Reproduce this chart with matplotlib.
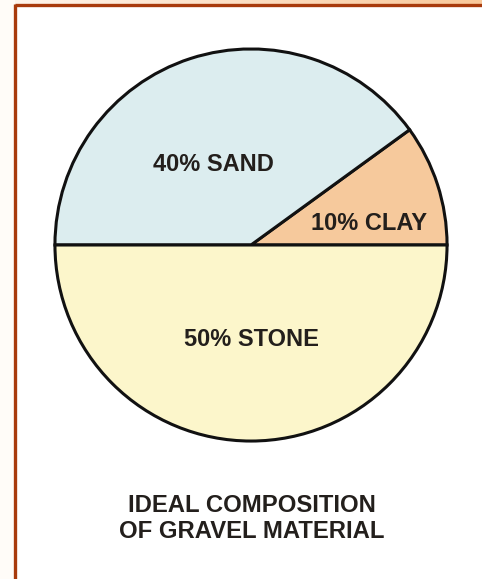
import numpy as np
import matplotlib
matplotlib.use("Agg")
import matplotlib.pyplot as plt
from matplotlib.patches import Rectangle
from matplotlib.lines import Line2D
from matplotlib.colors import LinearSegmentedColormap

# Composition of gravel material (percent)
labels = ["10% CLAY", "40% SAND", "50% STONE"]
shares = [10, 40, 50]
colors = ["#F6C99C", "#DCEDEF", "#FCF6CB"]
title_lines = ["IDEAL COMPOSITION", "OF GRAVEL MATERIAL"]

W, H, DPI = 482, 579, 100
fig = plt.figure(figsize=(W / DPI, H / DPI), dpi=DPI)
fig.patch.set_facecolor("white")

def fx(px):
    return px / W

def fy(py):
    return 1 - py / H

# Page margin strips
fig.patches.append(Rectangle((0, 0), fx(15), 1, transform=fig.transFigure,
                             facecolor="#FFFCF8", edgecolor="none", zorder=0))
strip = fig.add_axes([0, fy(4), 1, 4 / H])
grad = np.linspace(0, 1, 256)[None, :]
cmap = LinearSegmentedColormap.from_list("peach", ["#FFF6EE", "#F9C89A"])
strip.imshow(grad, aspect="auto", cmap=cmap, extent=[0, 1, 0, 1])
strip.axis("off")

# Frame lines (top and left)
fig.lines.append(Line2D([fx(15.5), 1], [fy(5), fy(5)], transform=fig.transFigure,
                        color="#A83A0C", linewidth=2.4, solid_capstyle="butt"))
fig.lines.append(Line2D([fx(15.5), fx(15.5)], [fy(4), 0], transform=fig.transFigure,
                        color="#A83A0C", linewidth=2.4, solid_capstyle="butt"))

# Pie axes: centre (251, 245) px, radius 198 px
cx, cy, r = 251, 245, 198
ax = fig.add_axes([fx(cx - r), fy(cy + r), 2 * r / W, 2 * r / H])
ax.pie(shares, colors=colors, startangle=0, counterclock=True, radius=1,
       wedgeprops=dict(edgecolor="#111111", linewidth=2.2))
ax.set_xlim(-1.01, 1.01)
ax.set_ylim(-1.01, 1.01)
ax.set_aspect("auto")
ax.axis("off")

font = dict(family=["Liberation Sans", "DejaVu Sans"], fontweight="bold",
            color="#231F1C", ha="center", va="center")
label_pos = {"10% CLAY": (370, 223), "40% SAND": (213.5, 163.5), "50% STONE": (251.5, 340)}
for lab in labels:
    px, py = label_pos[lab]
    ax.text((px - cx) / r, (cy - py) / r, lab, fontsize=17, **font)

fig.text(fx(252), fy(505), title_lines[0], fontsize=17.2, **font)
fig.text(fx(252), fy(531.5), title_lines[1], fontsize=17.2, **font)

fig.savefig("out.png", dpi=DPI)
